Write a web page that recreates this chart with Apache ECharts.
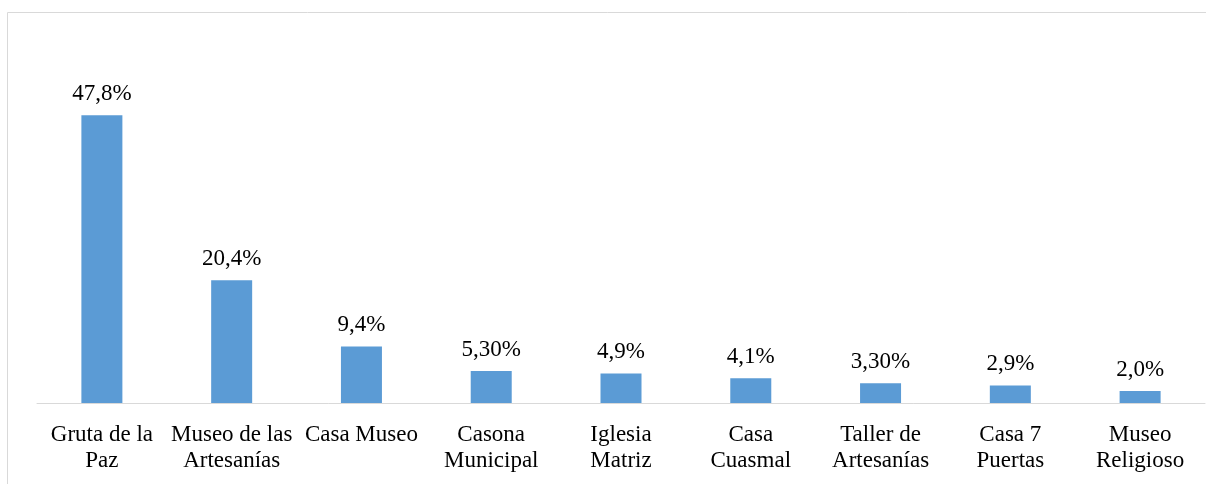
<!DOCTYPE html>
<html>
<head>
<meta charset="utf-8">
<script src="https://cdn.jsdelivr.net/npm/echarts@6/dist/echarts.min.js"></script>
<style>
  html, body { margin: 0; padding: 0; background: #fff; }
  #main { width: 1206px; height: 484px; }
</style>
</head>
<body>
<div id="main"></div>
<script>
let categories = ['Gruta de la\nPaz', 'Museo de las\nArtesanías', 'Casa Museo', 'Casona\nMunicipal', 'Iglesia\nMatriz', 'Casa\nCuasmal', 'Taller de\nArtesanías', 'Casa 7\nPuertas', 'Museo\nReligioso'];
let values = [47.8, 20.4, 9.4, 5.3, 4.9, 4.1, 3.3, 2.9, 2.0];
let valueLabels = ['47,8%', '20,4%', '9,4%', '5,30%', '4,9%', '4,1%', '3,30%', '2,9%', '2,0%'];

let chart = echarts.init(document.getElementById('main'));
let font = '"Liberation Serif", "Times New Roman", serif';

let option = {
  animation: false,
  graphic: [{
    type: 'rect',
    shape: { x: 7.5, y: 12.5, width: 1210, height: 500 },
    style: { fill: 'none', stroke: '#d9d9d9', lineWidth: 1 },
    silent: true
  }],
  grid: {
    left: 37,
    right: 1,
    top: 102,
    bottom: 81
  },
  xAxis: {
    type: 'category',
    data: categories,
    axisLine: { lineStyle: { color: '#d9d9d9', width: 1 } },
    axisTick: { show: false },
    axisLabel: {
      interval: 0,
      margin: 19,
      color: '#000',
      fontFamily: font,
      fontSize: 23,
      lineHeight: 26
    }
  },
  yAxis: {
    type: 'value',
    min: 0,
    max: 50,
    show: false,
    splitLine: { show: false }
  },
  series: [{
    type: 'bar',
    data: values,
    barWidth: 41,
    itemStyle: { color: '#5b9bd5' },
    label: {
      show: true,
      position: 'top',
      distance: 10,
      color: '#000',
      fontFamily: font,
      fontSize: 23,
      formatter: function (p) { return valueLabels[p.dataIndex]; }
    }
  }]
};

chart.setOption(option);
</script>
</body>
</html>
